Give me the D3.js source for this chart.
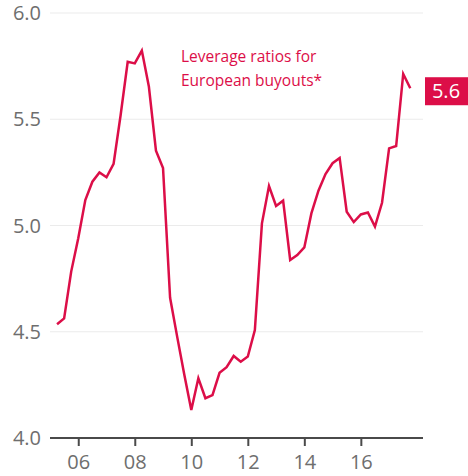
<!DOCTYPE html>
<html>
<head>
<meta charset="utf-8">
<script src="https://cdn.jsdelivr.net/npm/d3@7"></script>
<style>
  body { margin: 0; background: #fff; }
  svg { display: block; font-family: "Open Sans", "DejaVu Sans", sans-serif; }
</style>
</head>
<body>
<svg id="chart" width="468" height="476"></svg>
<script>
// quarterly leverage ratios, from 2005 Q2
var startYear = 2005.25
var leverage = [
  4.535, 4.563, 4.783, 4.94, 5.12, 5.206, 5.25, 5.227, 5.29, 5.52,
  5.77, 5.763, 5.823, 5.653, 5.352, 5.27, 4.66, 4.477, 4.30, 4.132,
  4.281, 4.187, 4.202, 4.307, 4.333, 4.386, 4.359, 4.383, 4.508, 5.01,
  5.186, 5.092, 5.117, 4.838, 4.861, 4.897, 5.057, 5.164, 5.242, 5.293,
  5.318, 5.065, 5.016, 5.052, 5.061, 4.995, 5.107, 5.363, 5.374, 5.713,
  5.646
]
var yTicks = [4.0, 4.5, 5.0, 5.5, 6.0]
var xTicks = [2006, 2008, 2010, 2012, 2014, 2016]
var titleLines = ['Leverage ratios for', 'European buyouts*']
var lastLabel = '5.6'

var red = '#dc0e48'
var svg = d3.select('#chart')

var x = d3.scaleLinear()
  .domain([2005, 2018.2])
  .range([50, 423])
var y = d3.scaleLinear()
  .domain([4, 6])
  .range([438, 13])

// gridlines
svg.append('g').selectAll('line')
  .data(yTicks.slice(1))
  .enter().append('line')
  .attr('x1', 50).attr('x2', 423)
  .attr('y1', function(d){return y(d)})
  .attr('y2', function(d){return y(d)})
  .style('stroke', '#ebebeb')
  .style('stroke-width', 1)

// y labels
svg.append('g').selectAll('text')
  .data(yTicks)
  .enter().append('text')
  .attr('x', 41)
  .attr('y', function(d){return y(d) + 7})
  .attr('text-anchor', 'end')
  .style('font-size', '20px')
  .style('fill', '#6e6e6e')
  .text(function(d){return d.toFixed(1)})

// x axis
var xAxis = svg.append('g')
  .attr('transform', 'translate(0,' + y(4) + ')')
  .call(d3.axisBottom(x)
    .tickValues(xTicks)
    .tickSize(8)
    .tickFormat(function(d){return String(d).slice(2)}))
xAxis.select('.domain')
  .attr('d', 'M50,0H423')
  .style('stroke', '#4a4a4a')
  .style('stroke-width', 2)
xAxis.selectAll('.tick line')
  .style('stroke', '#4a4a4a')
  .style('stroke-width', 2)
xAxis.selectAll('.tick text')
  .attr('y', 17)
  .style('font-size', '20px')
  .style('font-family', '"Open Sans", sans-serif')
  .style('fill', '#6e6e6e')

// the line
var line = d3.line()
  .x(function(d,i){return x(startYear + i * 0.25)})
  .y(function(d){return y(d)})
svg.append('path')
  .datum(leverage)
  .attr('d', line)
  .style('fill', 'none')
  .style('stroke', red)
  .style('stroke-width', 2.5)
  .style('stroke-linejoin', 'miter')

// annotation
svg.append('text')
  .attr('x', 181)
  .attr('y', 62)
  .style('font-size', '15.5px')
  .style('fill', red)
  .selectAll('tspan')
  .data(titleLines)
  .enter().append('tspan')
  .attr('x', 181)
  .attr('dy', function(d,i){return i ? 24 : 0})
  .text(function(d){return d})

// last value label
var lastY = y(leverage[leverage.length - 1])
svg.append('rect')
  .attr('x', 425)
  .attr('y', lastY - 11)
  .attr('width', 43)
  .attr('height', 28)
  .style('fill', red)
svg.append('text')
  .attr('x', 446)
  .attr('y', lastY + 10)
  .attr('text-anchor', 'middle')
  .style('font-size', '20px')
  .style('fill', '#fff')
  .text(lastLabel)
</script>
</body>
</html>
